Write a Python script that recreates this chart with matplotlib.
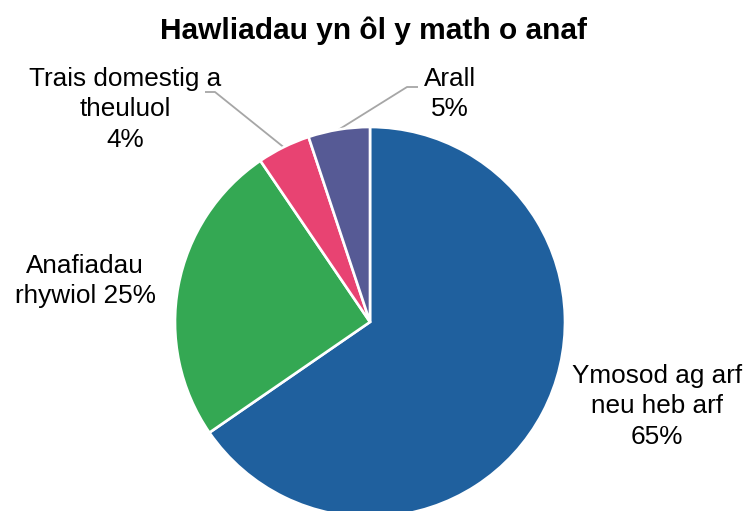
import numpy as np
import matplotlib
matplotlib.use('Agg')
import matplotlib.pyplot as plt

plt.rcParams['font.family'] = ['Liberation Sans', 'DejaVu Sans']

# data
categories = ['Ymosod ag arf\nneu heb arf', 'Anafiadau\nrhywiol', 'Trais domestig a\ntheuluol', 'Arall']
values = [65.4, 25.1, 4.4, 5.1]
pct_labels = ['65%', '25%', '4%', '5%']
colors = ['#1F609E', '#34A853', '#E84372', '#565A95']

W, H = 748, 511
fig = plt.figure(figsize=(W / 100, H / 100), dpi=100)
ax = fig.add_axes([0, 0, 1, 1])

cx, cy, r = 370, H - 322, 195

wedges, _ = ax.pie(values, colors=colors, startangle=90, counterclock=False,
                   center=(cx, cy), radius=r, frame=True,
                   wedgeprops=dict(edgecolor='white', linewidth=1.9))
ax.set_xlim(0, W)
ax.set_ylim(0, H)
ax.set_aspect('equal')
ax.axis('off')

fig.text(374 / W, 1 - 31 / H, 'Hawliadau yn ôl y math o anaf', ha='center', va='center',
         fontsize=21.5, fontweight='bold')

fs = 18.8
# label anchor (x, y of first line centre) in pixels from top-left
label_pos = [(657, 375), (85, 265), (125, 78), (450, 78)]
texts = [
    categories[0] + '\n' + pct_labels[0],
    categories[1] + ' ' + pct_labels[1],
    categories[2] + '\n' + pct_labels[2],
    categories[3] + '\n' + pct_labels[3],
]
for (x, y), t in zip(label_pos, texts):
    ax.text(x, H - y + 11, t, ha='center', va='top', fontsize=fs, linespacing=1.33)

# leader lines for the two small slices
line_ends = {2: [(205, 92), (215, 92)], 3: [(418, 87), (407, 87)]}
for i, pts in line_ends.items():
    w = wedges[i]
    mid = np.deg2rad((w.theta1 + w.theta2) / 2)
    sx, sy = cx + r * np.cos(mid), cy + r * np.sin(mid)
    (ex, ey), (kx, ky) = pts
    ax.plot([sx, kx, ex], [sy, H - ky, H - ey], color='#A6A6A6', lw=1.3,
            solid_capstyle='butt', zorder=0.5)

fig.savefig('out.png', dpi=100)
